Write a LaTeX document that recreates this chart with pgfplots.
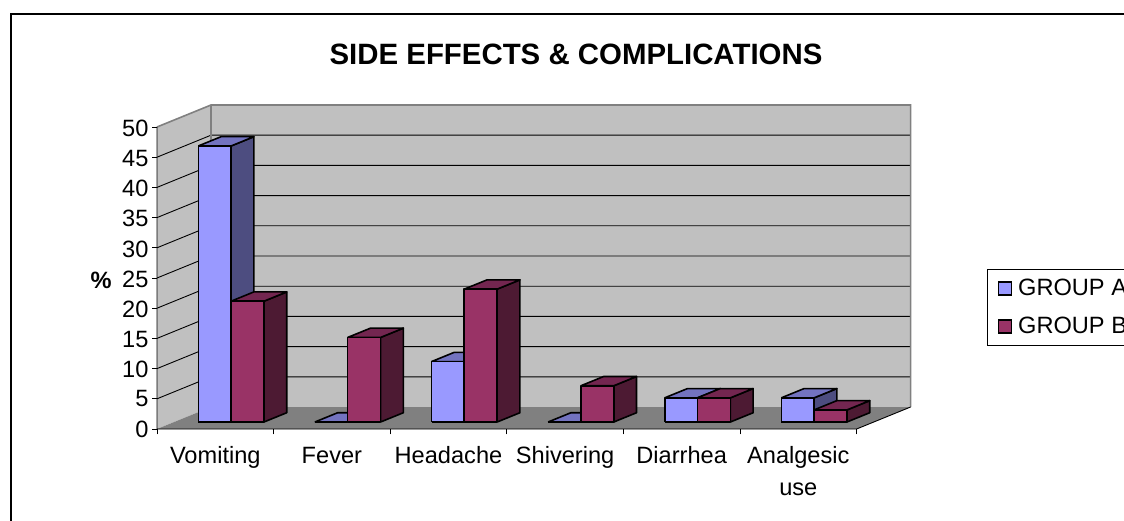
\documentclass[border=0pt]{standalone}
\usepackage{pgfplots}
\pgfplotsset{compat=1.18}
\usepackage{fontspec}
\setmainfont{Liberation Sans}
\definecolor{aF}{HTML}{9999FF}\definecolor{aT}{HTML}{7373C0}\definecolor{aS}{HTML}{4D4D80}
\definecolor{bF}{HTML}{993366}\definecolor{bT}{HTML}{732650}\definecolor{bS}{HTML}{4D1A33}
\definecolor{wall}{HTML}{C0C0C0}\definecolor{floorc}{HTML}{808080}
% #1 left x, #2 right x, #3 value, #4 front, #5 top, #6 side
\newcommand{\threeDbar}[6]{%
 \addplot3[draw=black,line width=1.6pt,line join=round,fill=#6] coordinates {(#2,0.318,0) (#2,0.74,0) (#2,0.74,#3) (#2,0.318,#3) (#2,0.318,0)};
 \addplot3[draw=black,line width=1.6pt,line join=round,fill=#5] coordinates {(#1,0.318,#3) (#2,0.318,#3) (#2,0.74,#3) (#1,0.74,#3) (#1,0.318,#3)};
 \addplot3[draw=black,line width=1.6pt,line join=round,fill=#4] coordinates {(#1,0.318,0) (#2,0.318,0) (#2,0.318,#3) (#1,0.318,#3) (#1,0.318,0)};
}
\begin{document}
\begin{tikzpicture}[x=1pt,y=1pt]
\useasboundingbox (0,0) rectangle (1124,520);
\draw[black,line width=2.2pt] (11,-10) -- (11,505.8) -- (1140,505.8);
\begin{axis}[
  at={(157pt,91pt)},anchor=south west,
  x={(116.6pt,0pt)},y={(54pt,22pt)},z={(0pt,6.04pt)},
  xmin=0,xmax=6,ymin=0,ymax=1,zmin=0,zmax=50,
  clip=false,
  axis line style={draw=none},
  xtick={0.5,1.5,2.5,3.5,4.5,5.5},
  xticklabels={\strut Vomiting,\strut Fever,\strut Headache,\strut Shivering,\strut Diarrhea,{\strut Analgesic\\\strut use}},
  ytick=\empty,
  ztick={0,5,...,50},
  xtick pos=left,ztick pos=left,
  tick align=outside,major tick length=0pt,
  x tick label style={align=center,anchor=north,font=\fontsize{23.6}{32}\selectfont,xshift=0pt,yshift=-8.5pt},
  z tick label style={font=\fontsize{23.6}{26}\selectfont,xshift=-5pt,yshift=2pt},
  /pgf/number format/assume math mode=true,
  every axis title shift=0pt,
  title={\bfseries SIDE EFFECTS \& COMPLICATIONS},
  title style={font=\fontsize{29.4}{34}\selectfont,at={(axis description cs:0.556,1.157)},anchor=center},
  legend entries={GROUP A,GROUP B},
  legend style={at={(axis description cs:1.102,0.494)},anchor=north west,draw=black,line width=1pt,font=\fontsize{23.6}{26}\selectfont,legend cell align=left,row sep=16pt,inner xsep=10pt,inner ysep=8pt},
]
\addlegendimage{legend image code/.code={\draw[draw=black,fill=aF,line width=1.4pt] (0pt,-6.5pt) rectangle (13pt,6.5pt);\path (17pt,0pt);}}
\addlegendimage{legend image code/.code={\draw[draw=black,fill=bF,line width=1.4pt] (0pt,-6.5pt) rectangle (13pt,6.5pt);\path (17pt,0pt);}}
% walls and floor
\addplot3[draw=none,fill=wall] coordinates {(0,0,0) (0,1,0) (0,1,50) (0,0,50) (0,0,0)};
\addplot3[draw=none,fill=wall] coordinates {(0,1,0) (6,1,0) (6,1,50) (0,1,50) (0,1,0)};
% gridlines
\pgfplotsinvokeforeach{5,10,...,45}{
  \addplot3[black,line width=0.9pt] coordinates {(0,0,#1) (0,1,#1) (6,1,#1)};
}
\addplot3[draw=none,fill=floorc] coordinates {(0,0,0) (6,0,0) (6,1,0) (0,1,0) (0,0,0)};
\addplot3[floorc,line width=1.6pt] coordinates {(0,0,50) (0,1,50) (6,1,50) (6,1,0)};
\addplot3[floorc,line width=1.6pt] coordinates {(0,1,0) (0,1,50)};
\addplot3[black,line width=0.9pt] coordinates {(0,0,50) (0,0,0) (6,0,0) (6,1,0)};
% tick marks
\pgfplotsinvokeforeach{0,5,...,50}{
  \addplot3[black,line width=0.9pt] coordinates {(-0.04,0,#1) (0,0,#1)};
}
\pgfplotsinvokeforeach{0,1,...,6}{
  \addplot3[black,line width=0.9pt] coordinates {(#1,0,-0.9) (#1,0,0)};
}
% bars
\threeDbar{0.207}{0.488}{45.7}{aF}{aT}{aS}
\threeDbar{0.488}{0.770}{20}{bF}{bT}{bS}
\threeDbar{1.207}{1.488}{0}{aF}{aT}{aS}
\threeDbar{1.488}{1.770}{14}{bF}{bT}{bS}
\threeDbar{2.207}{2.488}{10}{aF}{aT}{aS}
\threeDbar{2.488}{2.770}{22}{bF}{bT}{bS}
\threeDbar{3.207}{3.488}{0}{aF}{aT}{aS}
\threeDbar{3.488}{3.770}{6}{bF}{bT}{bS}
\threeDbar{4.207}{4.488}{4}{aF}{aT}{aS}
\threeDbar{4.488}{4.770}{4}{bF}{bT}{bS}
\threeDbar{5.207}{5.488}{4}{aF}{aT}{aS}
\threeDbar{5.488}{5.770}{2}{bF}{bT}{bS}
\node[font=\fontsize{23.6}{26}\selectfont\bfseries] at (axis description cs:-0.074,0.46) {\%};
\end{axis}
\end{tikzpicture}
\end{document}
